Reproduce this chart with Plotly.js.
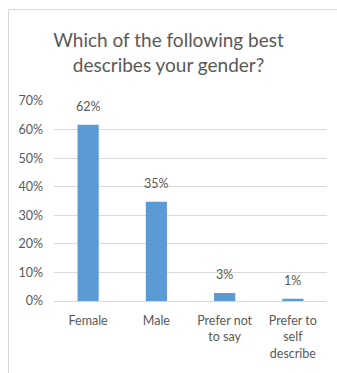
<!DOCTYPE html>
<html>
<head>
<meta charset="utf-8">
<script src="https://cdn.plot.ly/plotly-3.0.1.min.js"></script>
<style>
html,body{margin:0;padding:0;background:#fff;}
#chart{width:337px;height:373px;}
</style>
</head>
<body>
<div id="chart"></div>
<script>
const categories = ["Female", "Male", "Prefer not<br>to say", "Prefer to<br>self<br>describe"];
const shares = [0.617, 0.347, 0.028, 0.008];
const yTickValues = [0, 0.1, 0.2, 0.3, 0.4, 0.5, 0.6, 0.7];
const chartTitle = "Which of the following best<br>describes your gender?";

const font = "Lato, 'Open Sans', sans-serif";
const grey = "#595959";

const trace = {
  type: "bar",
  x: categories,
  y: shares,
  marker: {color: "#5b9bd5", line: {color: "#5b9bd5", width: 0}},
  hoverinfo: "none"
};

const labels = categories.map((c, i) => ({
  x: c,
  y: shares[i],
  xref: "x",
  yref: "y",
  text: Math.round(shares[i] * 100) + "%",
  showarrow: false,
  yanchor: "bottom",
  yshift: 9,
  font: {family: font, size: 12.5, color: grey}
}));

const layout = {
  width: 337,
  height: 373,
  margin: {l: 54, r: 10, t: 101, b: 72},
  paper_bgcolor: "#ffffff",
  plot_bgcolor: "#ffffff",
  showlegend: false,
  bargap: 0.69,
  title: {
    text: chartTitle,
    font: {family: font, size: 19, color: grey},
    x: 0.5,
    xanchor: "center",
    y: 0.874,
    yanchor: "middle"
  },
  xaxis: {
    type: "category",
    showgrid: false,
    showline: true,
    linecolor: "#d9d9d9",
    linewidth: 1,
    ticks: "",
    ticklabelstandoff: 8,
    tickfont: {family: font, size: 12.5, color: grey},
    fixedrange: true
  },
  yaxis: {
    range: [0, 0.7],
    tickvals: yTickValues,
    tickformat: ".0%",
    showgrid: true,
    gridcolor: "#d9d9d9",
    gridwidth: 1,
    zeroline: false,
    showline: false,
    ticks: "",
    ticklabelstandoff: 10,
    tickfont: {family: font, size: 12.5, color: grey},
    fixedrange: true
  },
  annotations: labels,
  shapes: [{
    type: "rect",
    xref: "paper", yref: "paper",
    x0: -0.1667, x1: 2, y0: -1, y1: 1.4575,
    line: {color: "#d9d9d9", width: 1},
    fillcolor: "rgba(0,0,0,0)",
    layer: "below"
  }]
};

Plotly.newPlot("chart", [trace], layout, {displayModeBar: false, staticPlot: true});
</script>
</body>
</html>
